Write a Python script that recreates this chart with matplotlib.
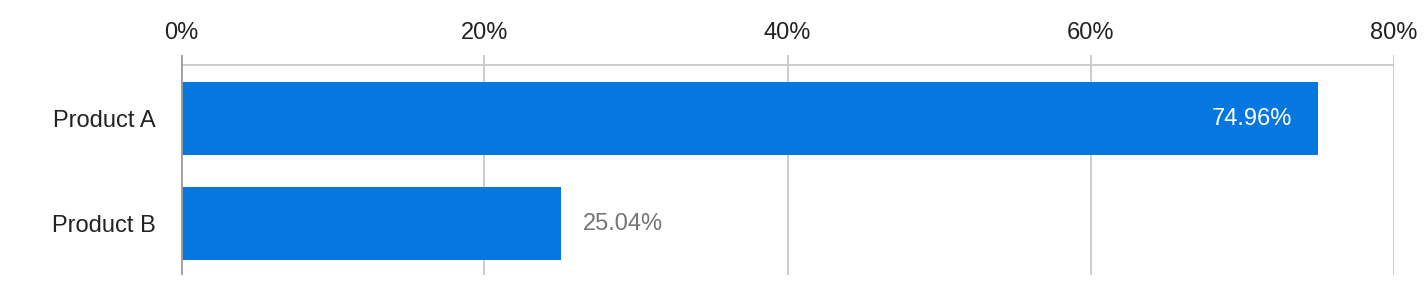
import matplotlib.pyplot as plt
import numpy as np

plt.rcParams['font.family'] = ['Liberation Sans', 'DejaVu Sans']

productos = ['Product A', 'Product B']
valores = [74.96, 25.04]
ticks_x = [0, 20, 40, 60, 80]
etiquetas_x = ['0%', '20%', '40%', '60%', '80%']

color_barra = '#0777e0'

fig = plt.figure(figsize=(14.26, 3.06), dpi=100)
# eje: x de 181 a 1394 px, y de 55 a 275 px
ax = fig.add_axes([181 / 1426, 1 - 275 / 306, (1394 - 181) / 1426, 220 / 306])

y = np.arange(len(productos))
ax.barh(y, valores, height=0.695, color=color_barra, zorder=3)

ax.set_xlim(0, 80)
ax.set_ylim(1.49, -0.605)

# rejilla vertical
for t in ticks_x[1:]:
    ax.axvline(t, color='#cccccc', lw=1.4, zorder=1)
ax.axvline(0, color='#9e9e9e', lw=2, zorder=4)
ax.hlines(-0.51, 0, 80, color='#cccccc', lw=1.4, zorder=1)

ax.xaxis.tick_top()
ax.set_xticks(ticks_x)
ax.set_xticklabels(etiquetas_x, fontsize=17, color='#222222')
ax.set_yticks(y)
ax.set_yticklabels(productos, fontsize=17, color='#222222')
ax.tick_params(axis='x', length=0, pad=8)
ax.tick_params(axis='y', length=0, pad=18.5)
for s in ax.spines.values():
    s.set_visible(False)

# etiquetas de valor
for yi, v in zip(y, valores):
    if v > 50:
        ax.text(v - 1.65, yi, f'{v:.2f}%', ha='right', va='center', color='white', fontsize=17, zorder=5)
    else:
        ax.text(v + 1.45, yi, f'{v:.2f}%', ha='left', va='center', color='#757575', fontsize=17, zorder=5)

fig.savefig('out.png', dpi=100)
